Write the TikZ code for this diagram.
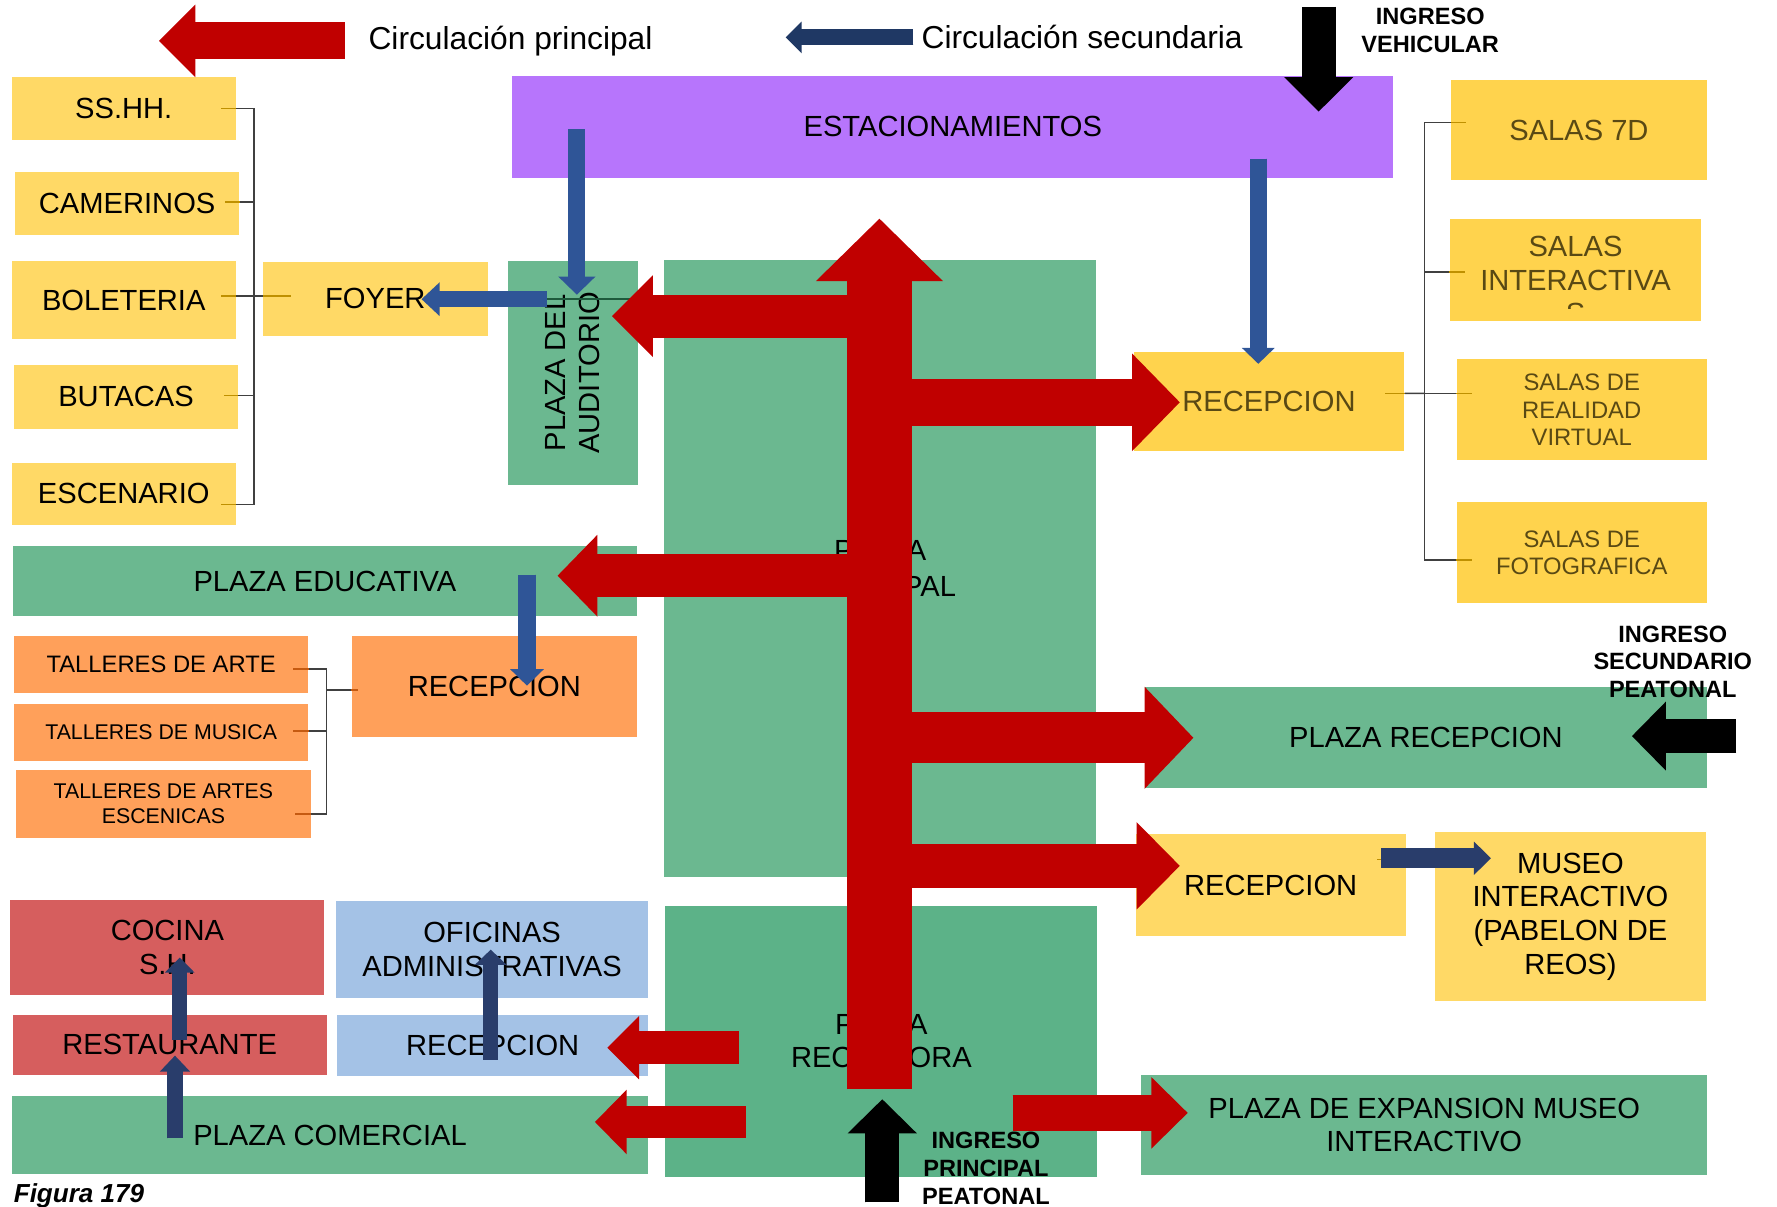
\documentclass[tikz,border=0pt]{standalone}
\usepackage{fontspec}
\setmainfont{Liberation Sans}
\usepackage{tikz}
\usetikzlibrary{arrows.meta}
\definecolor{arqpurple}{RGB}{183,117,252}
\definecolor{arqyellow}{RGB}{255,217,102}
\definecolor{arqgold}  {RGB}{255,211,77}
\definecolor{arqgreen} {RGB}{107,184,144}
\definecolor{arqgreendk}{RGB}{92,178,136}
\definecolor{arqorange}{RGB}{255,160,90}
\definecolor{arqrose}  {RGB}{214,94,94}
\definecolor{arqsky}   {RGB}{164,194,230}
\definecolor{arqred}   {RGB}{192,0,0}
\definecolor{arqblue}  {RGB}{47,85,151}
\definecolor{arqnavy}  {RGB}{41,61,107}
\definecolor{arqlegend}{RGB}{31,56,100}
\definecolor{arqolive} {RGB}{89,73,20}
\definecolor{arqgray}  {RGB}{64,64,64}
\definecolor{arqstub}  {RGB}{191,144,0}
\definecolor{arqstubor}{RGB}{197,90,17}
\definecolor{arqline}  {RGB}{30,90,60}
\newcommand\txtL{\fontsize{25.7}{29.7}\selectfont}
\newcommand\txtM{\fontsize{21}{24}\selectfont}
\newcommand\txtS{\fontsize{18.8}{22}\selectfont}
\newcommand\txtB{\fontsize{20.8}{24.4}\selectfont\bfseries}
\newcommand\txtLeg{\fontsize{28}{32}\selectfont}
\newcommand\txtFig{\fontsize{23}{26}\selectfont\bfseries\itshape}
\tikzset{
  area/.style={rectangle,inner sep=0pt,align=center,fill=#1,font=\txtL},
  area/.default=arqyellow,
  dims/.style 2 args={minimum width=#1pt,minimum height=#2pt},
  flow/.style n args={4}{draw=#1,line width=#2pt,
        -{Triangle[width=#3pt,length=#4pt,line width=0pt]},
        postaction={draw=#1,line width=#2pt,-,shorten >={#4pt-4pt}}},
  spine/.style={draw=arqgray,line width=1.3pt},
  stub/.style={draw=#1,line width=1.3pt},
  entry/.style={font=\txtB,align=center},
}
\begin{document}
\begin{tikzpicture}[x=1pt,y=-1pt,every node/.style={inner sep=0pt}]
  \useasboundingbox (0,0) rectangle (1568,1065);
  % areas
  \node[area=arqpurple,dims={777}{89.5},anchor=north west] (estac) at (452,67) {ESTACIONAMIENTOS};
  \node[area,dims={198}{55},anchor=north west] (sshh)  at (10,68)  {SS.HH.};
  \node[area,dims={198}{55},anchor=north west] (camer) at (13,152) {CAMERINOS};
  \node[area,dims={198}{69},anchor=north west] (bolet) at (10,230) {BOLETERIA};
  \node[area,dims={198}{56},anchor=north west] (butac) at (12,322) {BUTACAS};
  \node[area,dims={198}{55},anchor=north west] (escen) at (10,408) {ESCENARIO};
  \node[area,dims={198}{65},anchor=north west] (foyer) at (232,231) {FOYER};
  \node[area=arqgreen,dims={198}{115},rotate=90] (paud) at (505.5,329) {PLAZA DEL\\AUDITORIO};
  \node[area=arqgreen,dims={381}{545},anchor=north west,
        font={\fontsize{25.7}{32}\selectfont}] (ppal) at (586,229) {PLAZA\\PRINCIPAL};
  \node[area=arqgold,text=arqolive,dims={239}{88},anchor=north west] (recep1) at (1000,310) {RECEPCION};
  \node[area=arqgold,text=arqolive,dims={226}{89},anchor=north west] (sal7d) at (1280,70) {SALAS 7D};
  \node[area=arqgold,dims={222}{90},anchor=north west] (salint) at (1279,193) {};
  \node[area=arqgold,text=arqolive,font=\txtM,dims={221}{89},anchor=north west] (salrv) at (1285,317) {SALAS DE\\REALIDAD\\VIRTUAL};
  \node[area=arqgold,text=arqolive,font=\txtM,dims={221}{89},anchor=north west] (salfo) at (1285,443) {SALAS DE\\FOTOGRAFICA};
  \node[area=arqgreen,dims={551}{61},anchor=north west] (pedu) at (11,482) {PLAZA EDUCATIVA};
  \node[area=arqorange,dims={252}{89},anchor=north west] (recep2) at (310,561) {RECEPCION};
  \node[area=arqorange,font=\txtM,dims={260}{50},anchor=north west] (tart) at (12,561) {TALLERES DE ARTE};
  \node[area=arqorange,font=\txtS,dims={260}{50},anchor=north west] (tmus) at (12,621) {TALLERES DE MUSICA};
  \node[area=arqorange,font=\txtS,dims={260}{60},anchor=north west] (tesc) at (14,679) {TALLERES DE ARTES\\ESCENICAS};
  \node[area=arqrose,dims={277}{84},anchor=north west] (cocina) at (9,794) {COCINA\\S.H.};
  \node[area=arqrose,dims={277}{53},anchor=north west] (resta) at (11,895) {RESTAURANTE};
  \node[area=arqsky,dims={276}{85},anchor=north west] (ofic) at (296,795) {OFICINAS\\ADMINISTRATIVAS};
  \node[area=arqsky,dims={275}{54},anchor=north west] (recep4) at (297,895) {RECEPCION};
  \node[area=arqgreen,dims={562}{69},anchor=north west] (pcom) at (10,967) {PLAZA COMERCIAL};
  \node[area=arqgreendk,dims={381}{239},anchor=north west] (precr) at (587,799) {PLAZA\\RECEPTORA};
  \node[area=arqgreen,dims={496}{89},anchor=north west] (prec) at (1010,606) {PLAZA RECEPCION};
  \node[area,dims={238}{90},anchor=north west] (recep3) at (1002,736) {RECEPCION};
  \node[area,dims={239}{149},anchor=north west] (museo) at (1266,734) {MUSEO\\INTERACTIVO\\(PABELON DE\\REOS)};
  \node[area=arqgreen,dims={499}{89},anchor=north west] (pexp) at (1007,948) {PLAZA DE EXPANSION MUSEO\\INTERACTIVO};
  \begin{scope}
    \clip (salint.north west) rectangle ([yshift=11pt]salint.south east);
    \node[font=\txtL,text=arqolive,align=center] (salinttxt) at ([yshift=-9pt]salint.center) {SALAS\\INTERACTIVA\\S};
  \end{scope}
  % brackets
  \coordinate (nudoL) at (224,261);
  \foreach \b/\dy in {sshh/0,camer/1.5,bolet/3.5,butac/1,escen/-9.5}{
    \draw[spine] ([yshift=\dy pt]\b.east) -| (nudoL);
    \draw[stub=arqstub] ([yshift=\dy pt]\b.east) -- ++(-13,0);
  }
  \draw[spine] (nudoL) -- (foyer.west |- nudoL);
  \draw[stub=arqstub] (foyer.west |- nudoL) -- ++(25,0);
  \coordinate (nudoR) at (1257,347);
  \draw[spine] ([yshift=7pt]recep1.east) -- (nudoR);
  \draw[stub=arqstub] ([yshift=7pt]recep1.east) -- ++(-17,0);
  \foreach \b/\dy in {sal7d/6.5,salint/-2,salrv/14.5,salfo/-6.5}{
    \draw[spine] (nudoR) |- ([yshift=\dy pt]\b.west);
    \draw[stub=arqstub] ([yshift=\dy pt]\b.west) -- ++(14,0);
  }
  \coordinate (nudoT) at (288,609);
  \foreach \b/\dy in {tart/-4,tmus/1,tesc/-9}{
    \draw[spine] ([yshift=\dy pt]\b.east) -| (nudoT);
    \draw[stub=arqstubor] ([yshift=\dy pt]\b.east) -- ++(-14,0);
  }
  \draw[spine] (nudoT) -- (recep2.west |- nudoT);
  \draw[stub=arqstubor] (recep2.west |- nudoT) -- ++(6,0);
  \coordinate (nudoM) at ([yshift=23pt]recep3.east);
  \draw[stub=arqstub] (nudoM) -- ++(-25,0);
  \draw[spine] (nudoM) -- (museo.west |- nudoM);
  \draw[stub=arqstub] (museo.west |- nudoM) -- ++(25,0);
  \coordinate (audL) at (483,264);
  \draw[stub=arqline] (audL) -- (ppal.west |- audL);
  % circulacion principal
  \coordinate (ejeTop) at (776,193);
  \coordinate (ejeBot) at (776,961);
  \coordinate (tAud)  at (540,279);
  \coordinate (tRec1) at (1041,355);
  \coordinate (tEdu)  at (492,508);
  \coordinate (tPrec) at (1053,651);
  \coordinate (tRec3) at (1041,764);
  \foreach \t/\w/\h/\l in {tAud/38/72/36,tRec1/42/86/42,tEdu/38/72/35,
                           tPrec/45/90/43,tRec3/39/77/38}
    \draw[flow={arqred}{\w}{\h}{\l}] (ejeTop |- \t) -- (\t);
  \draw[flow={arqred}{57}{112}{55}] (ejeBot) -- (ejeTop);
  \coordinate (sRec4) at (652,924.5);
  \coordinate (tRec4) at (536,924.5);
  \coordinate (sCom)  at (658,990);
  \coordinate (tCom)  at (525,990);
  \coordinate (sExp)  at (893.5,982);
  \coordinate (tExp)  at (1048,982);
  \draw[flow={arqred}{29}{56}{28}] (sRec4) -- (tRec4);
  \draw[flow={arqred}{28.5}{57}{28}] (sCom) -- (tCom);
  \draw[flow={arqred}{32}{63}{32}] (sExp) -- (tExp);
  % ingresos
  \coordinate (ingV0) at (1163.6,6);
  \coordinate (ingV1) at (1163.6,98.4);
  \coordinate (ingP0) at (778.5,1061);
  \coordinate (ingP1) at (778.5,970);
  \coordinate (ingS0) at (1532,649.5);
  \coordinate (ingS1) at (1440,649.5);
  \draw[flow={black}{30}{61}{30.4}] (ingV0) -- (ingV1);
  \draw[flow={black}{30}{61}{30}] (ingP0) -- (ingP1);
  \draw[flow={black}{29.6}{61}{30}] (ingS0) -- (ingS1);
  \node[entry] (txtV) at (1262,26.8) {INGRESO\\VEHICULAR};
  \node[entry] (txtP) at (870,1031) {INGRESO\\PRINCIPAL\\PEATONAL};
  \node[entry] (txtS) at (1476,584) {INGRESO\\SECUNDARIO\\PEATONAL};
  % circulacion secundaria
  \coordinate (eAud)  at (509,114);
  \coordinate (tAudB) at (509,260);
  \coordinate (tFoy)  at (372,264);
  \coordinate (eRec1) at (1110.3,140);
  \coordinate (tRec1B) at (1110.3,321);
  \coordinate (eEdu)  at (465,507);
  \coordinate (tRec2) at (465,605);
  \draw[flow={arqblue}{15}{33}{16}] (eAud) -- (tAudB);
  \draw[flow={arqblue}{14.5}{30}{16}] (audL) -- (tFoy);
  \draw[flow={arqblue}{14.7}{29}{14}] (eRec1) -- (tRec1B);
  \draw[flow={arqblue}{15.2}{29.7}{14.5}] (eEdu) -- (tRec2);
  \coordinate (sMus) at (1218.6,757.3);
  \coordinate (tMus) at (1315.6,757.3);
  \coordinate (sCoc) at (158.6,917.6);
  \coordinate (tCoc) at (158.6,845);
  \coordinate (sRes) at (154.4,1004.4);
  \coordinate (tRes) at (154.4,931.5);
  \coordinate (sOfi) at (433,935);
  \coordinate (tOfi) at (433,838);
  \draw[flow={arqnavy}{17.6}{29.4}{15}] (sMus) -- (tMus);
  \draw[flow={arqnavy}{13.3}{26.4}{13.3}] (sCoc) -- (tCoc);
  \draw[flow={arqnavy}{13.6}{26.6}{14}] (sRes) -- (tRes);
  \draw[flow={arqnavy}{13.2}{28}{13.3}] (sOfi) -- (tOfi);
  % leyenda
  \coordinate (legR0) at (304,36);
  \coordinate (legR1) at (140.3,36);
  \draw[flow={arqred}{33}{64}{32}] (legR0) -- (legR1);
  \node[font=\txtLeg,anchor=base west] (legRtxt) at (325,44) {Circulación principal};
  \coordinate (legB0) at (806,33);
  \coordinate (legB1) at (693.3,33);
  \draw[flow={arqlegend}{14}{28}{14}] (legB0) -- (legB1);
  \node[font=\txtLeg,anchor=base west] (legBtxt) at (813,43) {Circulación secundaria};
  \node[font=\txtFig,anchor=base west] (fig) at (12,1061) {Figura 179};
\end{tikzpicture}
\end{document}
